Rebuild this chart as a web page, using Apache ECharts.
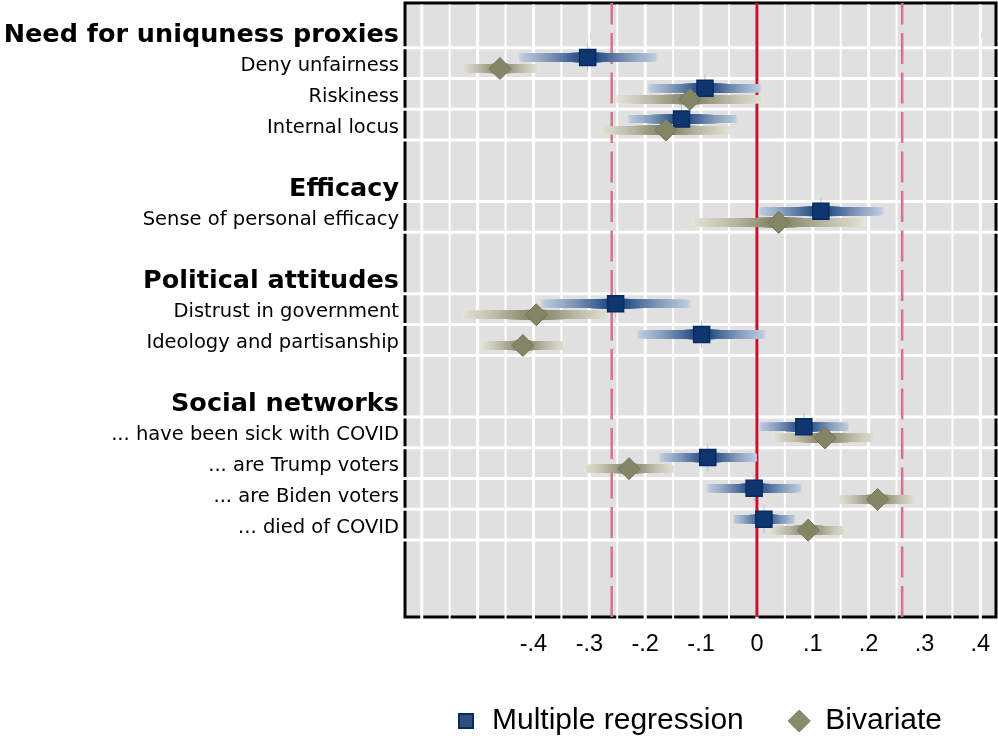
<!DOCTYPE html>
<html>
<head>
<meta charset="utf-8">
<script src="https://cdn.jsdelivr.net/npm/echarts@6/dist/echarts.min.js"></script>
<style>
  html, body { margin: 0; padding: 0; background: #ffffff; }
  #chart { width: 998px; height: 740px; }
</style>
</head>
<body>
<div id="chart"></div>
<script>
// Row labels (top to bottom); empty strings are spacer rows between groups
const rowLabels = [
  'Need for uniquness proxies', 'Deny unfairness', 'Riskiness', 'Internal locus', '',
  'Efficacy', 'Sense of personal efficacy', '',
  'Political attitudes', 'Distrust in government', 'Ideology and partisanship', '',
  'Social networks', '... have been sick with COVID', '... are Trump voters',
  '... are Biden voters', '... died of COVID'
];
const headerRows = [0, 5, 8, 12];
const varRows = [1, 2, 3, 6, 9, 10, 13, 14, 15, 16];

// Multiple regression: point estimates and outer interval bounds
const multEst = [-0.303, -0.093, -0.135, 0.1145, -0.253, -0.099, 0.084, -0.088, -0.005, 0.0125];
const multLo  = [-0.426, -0.195, -0.231, 0.002, -0.387, -0.214, 0.003, -0.175, -0.090, -0.042];
const multHi  = [-0.178, 0.008, -0.035, 0.227, -0.119, 0.0155, 0.165, 0.000, 0.0805, 0.0686];

// Bivariate: point estimates and outer interval bounds
const bivEst = [-0.460, -0.120, -0.163, 0.039, -0.395, -0.419, 0.1216, -0.229, 0.216, 0.0918];
const bivLo  = [-0.528, -0.252, -0.279, -0.116, -0.528, -0.494, 0.029, -0.309, 0.1455, 0.022];
const bivHi  = [-0.391, 0.0125, -0.048, 0.194, -0.263, -0.343, 0.213, -0.148, 0.2857, 0.160];

// Axis ticks, grid positions and reference lines
const xTicks = [-0.4, -0.3, -0.2, -0.1, 0, 0.1, 0.2, 0.3, 0.4];
const xGrid = [-0.6, -0.55, -0.5, -0.45, -0.4, -0.35, -0.3, -0.25, -0.2, -0.15, -0.1,
               -0.05, 0, 0.05, 0.1, 0.15, 0.2, 0.25, 0.3, 0.35, 0.4];
const refLines = [-0.26, 0, 0.26];

const ROW_SHIFT = 0.18;   // vertical offset of the two series within a row
const yGrid = [];
varRows.forEach(r => {
  [r - 0.5, r + 0.5].forEach(v => { if (!yGrid.includes(v)) yGrid.push(v); });
});
const labelRows = rowLabels.map((t, i) => i).filter(i => rowLabels[i] !== '');

function erf(x) {
  const t = 1 / (1 + 0.3275911 * x);
  return 1 - (((((1.061405429 * t - 1.453152027) * t) + 1.421413741) * t - 0.284496736) * t
    + 0.254829592) * t * Math.exp(-x * x);
}
function hexToRgb(h) {
  return [parseInt(h.slice(1, 3), 16), parseInt(h.slice(3, 5), 16), parseInt(h.slice(5, 7), 16)];
}
function mix(a, b, t) {
  const A = hexToRgb(a), B = hexToRgb(b);
  return 'rgb(' + A.map((v, i) => Math.round(v + (B[i] - v) * t)).join(',') + ')';
}

// Smoothed confidence interval: nested bars, darker and thicker for narrower levels
function smoothCI(light, dark, spikeColor) {
  const N = 40, Z99 = 2.5758;
  return function (params, api) {
    const est = api.value(0), lo = api.value(1), hi = api.value(2), row = api.value(3);
    const c = api.coord([est, row]);
    const xl = api.coord([lo, row])[0], xh = api.coord([hi, row])[0];
    const children = [];
    if (spikeColor) {
      children.push({ type: 'line', shape: { x1: c[0], y1: c[1] - 14, x2: c[0], y2: c[1] + 14 },
        style: { stroke: spikeColor, lineWidth: 1 } });
    }
    for (let k = 0; k < N; k++) {
      const f = 1 - k / N;
      const p = Math.min(0.99, erf(f * Z99 / Math.SQRT2));
      const inten = Math.pow(Math.max(0, 1 - p / 0.99), 0.45);
      const h = 8 + 2.5 * (1 - p);
      const x1 = c[0] - f * (c[0] - xl), x2 = c[0] + f * (xh - c[0]);
      children.push({ type: 'rect', shape: { x: x1, y: c[1] - h / 2, width: x2 - x1, height: h },
        style: { fill: mix(light, dark, inten) } });
    }
    return { type: 'group', children };
  };
}

function ciData(est, lo, hi, shift) {
  return est.map((e, i) => [e, lo[i], hi[i], varRows[i] + shift]);
}
function pointData(est, shift) {
  return est.map((e, i) => [e, varRows[i] + shift]);
}
function tickText(v) {
  if (Math.abs(v) < 1e-9) return '0';
  return (v < 0 ? '-' : '') + Math.abs(v).toFixed(1).replace(/^0/, '');
}

const squareIcon = 'path://M0,0M32,22M4,4h14v14h-14z';
const diamondIcon = 'path://M0,0M32,22M11,0L22,11L11,22L0,11z';

const chart = echarts.init(document.getElementById('chart'), null, { renderer: 'canvas' });
chart.setOption({
  animation: false,
  backgroundColor: '#ffffff',
  grid: {
    left: 405, right: 2, top: 3, bottom: 123,
    show: true, backgroundColor: '#e0e0e0', borderColor: '#000000', borderWidth: 3
  },
  xAxis: {
    type: 'value', min: -0.63, max: 0.428,
    axisLine: { show: false },
    splitLine: { show: false },
    axisTick: { show: true, customValues: xTicks, length: 6, lineStyle: { color: '#000', width: 2 } },
    axisLabel: {
      customValues: xTicks, formatter: tickText, margin: 16,
      fontFamily: 'Liberation Sans', fontSize: 23.5, color: '#000'
    }
  },
  yAxis: {
    type: 'value', inverse: true, min: -0.95, max: 19,
    axisLine: { show: false }, axisTick: { show: false }, splitLine: { show: false },
    axisLabel: {
      customValues: labelRows, margin: 6,
      formatter: v => {
        const i = Math.round(v);
        return headerRows.includes(i) ? '{h|' + rowLabels[i] + '}' : '{v|' + rowLabels[i] + '}';
      },
      rich: {
        h: { fontFamily: 'DejaVu Sans', fontWeight: 'bold', fontSize: 25.5, color: '#000', padding: [6, 0, 0, 0] },
        v: { fontFamily: 'DejaVu Sans', fontSize: 19.5, color: '#000', padding: [6, 0, 0, 0] }
      }
    }
  },
  legend: {
    left: 454, top: 706, padding: 0, itemGap: 44, itemWidth: 32, itemHeight: 22,
    textStyle: { fontFamily: 'Liberation Sans', fontSize: 30, color: '#000' },
    selectedMode: false,
    data: [
      { name: 'Multiple regression', icon: squareIcon,
        itemStyle: { color: '#2f4f84', borderColor: '#082a62', borderWidth: 2 } },
      { name: 'Bivariate', icon: diamondIcon,
        itemStyle: { color: '#8a8a6c', borderColor: '#7a7a5c', borderWidth: 1 } }
    ]
  },
  series: [
    {
      name: 'vgrid', type: 'custom', silent: true, z: 1,
      data: xGrid.map(v => [v]),
      encode: { x: 0 },
      renderItem: (params, api) => {
        const v = api.value(0), cs = params.coordSys;
        const x = api.coord([v, 0])[0];
        const major = Math.abs(v * 10 - Math.round(v * 10)) < 1e-6;
        return { type: 'line', shape: { x1: x, y1: cs.y + 1.5, x2: x, y2: cs.y + cs.height + 2 },
          style: { stroke: '#ffffff', lineWidth: major ? 3 : 2 } };
      }
    },
    {
      name: 'hgrid', type: 'custom', silent: true, z: 1,
      data: yGrid.map(v => [0, v]),
      encode: { x: 0, y: 1 },
      renderItem: (params, api) => {
        const cs = params.coordSys;
        const y = api.coord([0, api.value(1)])[1];
        return { type: 'line', shape: { x1: cs.x - 2, y1: y, x2: cs.x + cs.width + 2, y2: y },
          style: { stroke: '#ffffff', lineWidth: 3 } };
      }
    },
    {
      name: 'reference', type: 'custom', silent: true, z: 2,
      data: refLines.map(v => [v]),
      encode: { x: 0 },
      renderItem: (params, api) => {
        const v = api.value(0), cs = params.coordSys;
        const x = api.coord([v, 0])[0];
        const zero = Math.abs(v) < 1e-9;
        return { type: 'line', shape: { x1: x, y1: cs.y + cs.height, x2: x, y2: cs.y },
          style: zero ? { stroke: '#c8102e', lineWidth: 3 }
                      : { stroke: '#d8718b', lineWidth: 2.5, lineDash: [31, 8.5] } };
      }
    },
    {
      name: 'ci-multiple', type: 'custom', silent: true, z: 3,
      data: ciData(multEst, multLo, multHi, -ROW_SHIFT),
      encode: { x: [0, 1, 2], y: 3 },
      renderItem: smoothCI('#c9d4e4', '#0f3a78', '#b3c2d8')
    },
    {
      name: 'ci-bivariate', type: 'custom', silent: true, z: 3,
      data: ciData(bivEst, bivLo, bivHi, ROW_SHIFT),
      encode: { x: [0, 1, 2], y: 3 },
      renderItem: smoothCI('#e6e6dc', '#7c7c5c', null)
    },
    {
      name: 'Multiple regression', type: 'scatter', z: 4, silent: true,
      symbol: 'rect', symbolSize: 16,
      itemStyle: { color: '#10366f', borderColor: '#072a60', borderWidth: 1.5, opacity: 1 },
      data: pointData(multEst, -ROW_SHIFT)
    },
    {
      name: 'Bivariate', type: 'scatter', z: 4, silent: true,
      symbol: 'diamond', symbolSize: 22,
      itemStyle: { color: '#848466', borderColor: '#76765a', borderWidth: 1, opacity: 1 },
      data: pointData(bivEst, ROW_SHIFT)
    }
  ]
});
</script>
</body>
</html>
